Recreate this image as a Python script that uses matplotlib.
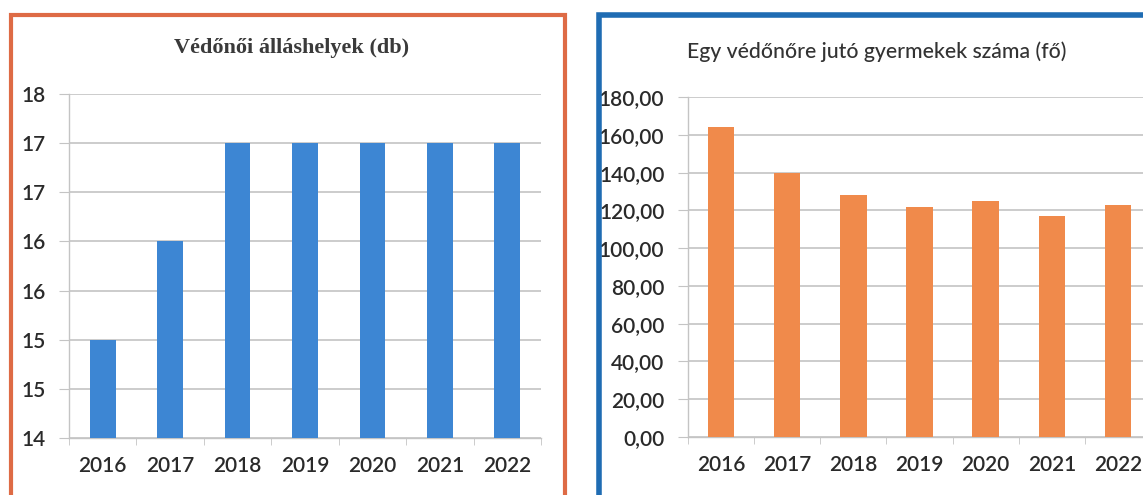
import numpy as np
import matplotlib.pyplot as plt
from matplotlib.patches import Rectangle
from matplotlib.ticker import FuncFormatter, FixedLocator

years = ["2016", "2017", "2018", "2019", "2020", "2021", "2022"]
positions = [15, 16, 17, 17, 17, 17, 17]          # védőnői álláshelyek (db)
children = [164, 140, 128, 122, 125, 117, 123]    # egy védőnőre jutó gyermek (fő)

W, H = 1143, 495
fig = plt.figure(figsize=(W / 100, H / 100), dpi=100)
fig.patch.set_facecolor("white")

font = "Lato"
grid_c = "#c4c4c4"
txt_c = "#2a2a2a"


def px_axes(x0, x1, ytop, ybot):
    # pixel box -> figure fraction
    return fig.add_axes([x0 / W, (H - ybot) / H, (x1 - x0) / W, (ybot - ytop) / H])


def style(ax):
    for s in ["top", "right"]:
        ax.spines[s].set_visible(False)
    for s in ["left", "bottom"]:
        ax.spines[s].set_color(grid_c)
        ax.spines[s].set_linewidth(1)
    ax.set_axisbelow(True)
    ax.yaxis.grid(True, color=grid_c, linewidth=1.2)
    ax.set_xlim(-0.5, 6.5)
    ax.set_xticks(range(len(years)))
    ax.set_xticklabels(years)
    ax.tick_params(axis="x", length=0, pad=13, labelsize=15, labelcolor=txt_c)
    ax.xaxis.set_minor_locator(FixedLocator(np.arange(-0.5, 7, 1)))
    ax.tick_params(axis="x", which="minor", length=5, color=grid_c, direction="out")
    ax.tick_params(axis="y", length=7, color=grid_c, pad=10, labelsize=15, labelcolor=txt_c)
    for lab in ax.get_xticklabels() + ax.get_yticklabels():
        lab.set_fontfamily(font)
        lab.set_fontweight("semibold")


# left chart
ax1 = px_axes(69, 541, 94, 438)
ax1.bar(range(len(years)), positions, width=0.38, color="#3d86d3", zorder=3)
ax1.set_ylim(14, 17.5)
ax1.set_yticks(np.arange(14, 17.51, 0.5))
ax1.yaxis.set_major_formatter(FuncFormatter(lambda v, p: str(int(np.floor(v + 0.5)))))
style(ax1)

# right chart
ax2 = px_axes(688, 1151, 97, 437)
ax2.bar(range(len(years)), children, width=0.4, color="#f08a4b", zorder=3)
ax2.set_ylim(0, 180)
ax2.set_yticks(np.arange(0, 181, 20))
ax2.yaxis.set_major_formatter(FuncFormatter(lambda v, p: f"{v:.2f}".replace(".", ",")))
style(ax2)

# titles
fig.text(292 / W, 1 - 48 / H, "Védőnői álláshelyek (db)", ha="center", va="center",
         fontsize=16, fontweight="bold", family="Liberation Serif", color="#3a3a3a")
fig.text(877 / W, 1 - 52 / H, "Egy védőnőre jutó gyermekek száma (fő)", ha="center",
         va="center", fontsize=15.3, family=font, fontweight="medium", color="#333333")

# panel borders
fig.patches.append(Rectangle((11 / W, -0.05), (565 - 11) / W, 1.05 - 15 / H,
                             transform=fig.transFigure, fill=False,
                             edgecolor="#de6b45", linewidth=3))
fig.patches.append(Rectangle((599 / W, -0.05), 0.5, 1.05 - 15 / H,
                             transform=fig.transFigure, fill=False,
                             edgecolor="#1f6cb3", linewidth=4))

fig.savefig("out.png", dpi=100)
